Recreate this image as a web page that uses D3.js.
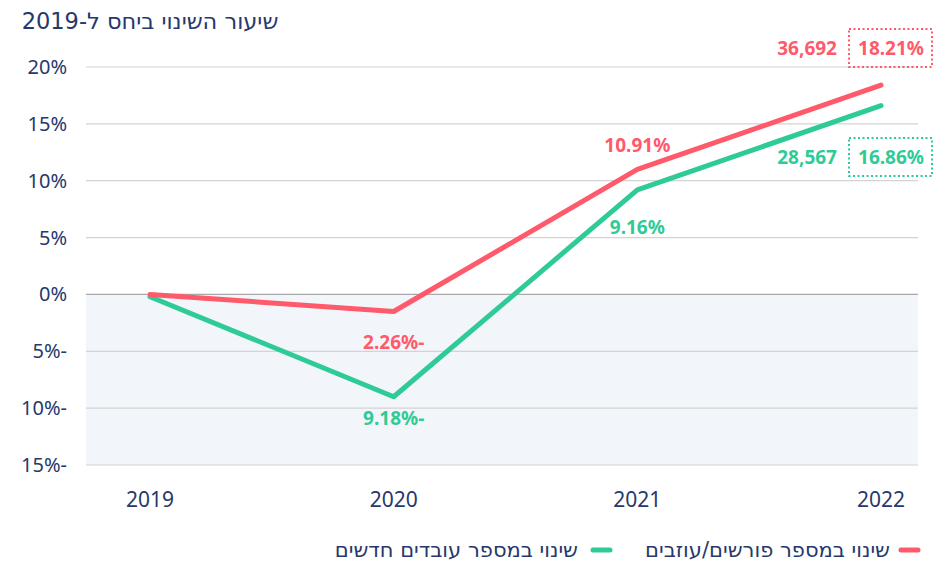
<!DOCTYPE html>
<html>
<head>
<meta charset="utf-8">
<script src="https://cdn.jsdelivr.net/npm/d3@7"></script>
<style>
  html, body { margin:0; padding:0; background:#fff; }
  svg { display:block; font-family:"Noto Sans","Open Sans",sans-serif; }
  .heb { font-family:"DejaVu Sans",sans-serif; }
</style>
</head>
<body>
<svg id="chart" width="943" height="561"></svg>
<script>
// --- data ---
const years      = ['2019', '2020', '2021', '2022'];
const leavers    = [0, -1.5, 11.0, 18.4];     // plotted position, red
const newHires   = [-0.2, -9.0, 9.2, 16.6];   // plotted position, green
const leaverLbl  = [null, '-2.26%', '10.91%', null];
const hireLbl    = [null, '-9.18%', '9.16%', null];
const yTicks     = [20, 15, 10, 5, 0, -5, -10, -15];
const finalCount = { leavers:'36,692', hires:'28,567' };
const finalPct   = { leavers:'18.21%', hires:'16.86%' };
const legend     = ['שינוי במספר פורשים/עוזבים', 'שינוי במספר עובדים חדשים'];
const title      = 'שיעור השינוי ביחס ל-2019';

const RED = '#ff5a6b', GREEN = '#2fcb97', NAVY = '#26386c';

const svg = d3.select('#chart');
const x = d3.scalePoint().domain(years).range([150, 881]);
const y = d3.scaleLinear().domain([-15, 20]).range([465, 67]);
const gx0 = 86, gx1 = 918;

// shaded negative area
svg.append('rect').attr('x', gx0).attr('y', y(0)).attr('width', gx1 - gx0)
  .attr('height', y(-15) - y(0)).attr('fill', '#f2f5fa');

// grid + y labels
svg.append('g').selectAll('line').data(yTicks).join('line')
  .attr('x1', gx0).attr('x2', gx1).attr('y1', d => y(d)).attr('y2', d => y(d))
  .attr('stroke', d => d === 0 ? '#a9a9a9' : '#d3d3d3').attr('stroke-width', 1.2);

svg.append('g').selectAll('text').data(yTicks).join('text')
  .attr('x', 67).attr('y', d => y(d)).attr('dy', '0.35em')
  .attr('direction', 'rtl').attr('text-anchor', 'start')
  .attr('font-size', 20).attr('fill', NAVY)
  .text(d => d + '%');

// x labels
svg.append('g').selectAll('text').data(years).join('text')
  .attr('x', d => x(d)).attr('y', 507).attr('text-anchor', 'middle')
  .attr('font-size', 21).attr('fill', NAVY).text(d => d);

// title
svg.append('text').attr('class', 'heb').attr('x', 150).attr('y', 29).attr('text-anchor', 'middle')
  .attr('direction', 'rtl').attr('font-size', 22.5).attr('fill', NAVY).text(title);

// lines
const line = d3.line().x((d, i) => x(years[i])).y(d => y(d));
[[newHires, GREEN], [leavers, RED]].forEach(([vals, c]) => {
  svg.append('path').datum(vals).attr('d', line).attr('fill', 'none')
    .attr('stroke', c).attr('stroke-width', 5)
    .attr('stroke-linecap', 'round').attr('stroke-linejoin', 'round');
});

// point labels
const lblY = { leavers:[0, 342, 145, 0], hires:[0, 418, 227, 0] };
function pointLabels(lbls, ys, c) {
  svg.append('g').selectAll('text').data(lbls.map((t, i) => ({t, i})).filter(d => d.t))
    .join('text')
    .attr('x', d => x(years[d.i])).attr('y', d => ys[d.i]).attr('dy', '0.35em')
    .attr('text-anchor', 'middle').attr('direction', 'rtl')
    .attr('font-size', 19).attr('font-weight', 'bold').attr('fill', c)
    .text(d => d.t);
}
pointLabels(leaverLbl, lblY.leavers, RED);
pointLabels(hireLbl, lblY.hires, GREEN);

// end labels with dotted boxes
function endLabel(count, pct, cy, c) {
  svg.append('text').attr('x', 837).attr('y', cy).attr('dy', '0.35em')
    .attr('text-anchor', 'end').attr('font-size', 19).attr('font-weight', 'bold')
    .attr('fill', c).text(count);
  svg.append('rect').attr('x', 849).attr('y', cy - 19).attr('width', 83).attr('height', 38)
    .attr('fill', 'none').attr('stroke', c).attr('stroke-width', 2)
    .attr('stroke-dasharray', '2 2.5');
  svg.append('text').attr('x', 891).attr('y', cy).attr('dy', '0.35em')
    .attr('text-anchor', 'middle').attr('font-size', 19).attr('font-weight', 'bold')
    .attr('fill', c).text(pct);
}
endLabel(finalCount.leavers, finalPct.leavers, 48, RED);
endLabel(finalCount.hires, finalPct.hires, 157, GREEN);

// legend
const leg = [{t: legend[0], c: RED, sx: 901, tx: 890}, {t: legend[1], c: GREEN, sx: 593, tx: 578}];
leg.forEach(d => {
  svg.append('line').attr('x1', d.sx).attr('x2', d.sx + 17).attr('y1', 550).attr('y2', 550)
    .attr('stroke', d.c).attr('stroke-width', 5).attr('stroke-linecap', 'round');
  svg.append('text').attr('class', 'heb').attr('x', d.tx).attr('y', 550).attr('dy', '0.35em')
    .attr('direction', 'rtl').attr('text-anchor', 'start')
    .attr('font-size', 21).attr('fill', NAVY).text(d.t);
});
</script>
</body>
</html>
